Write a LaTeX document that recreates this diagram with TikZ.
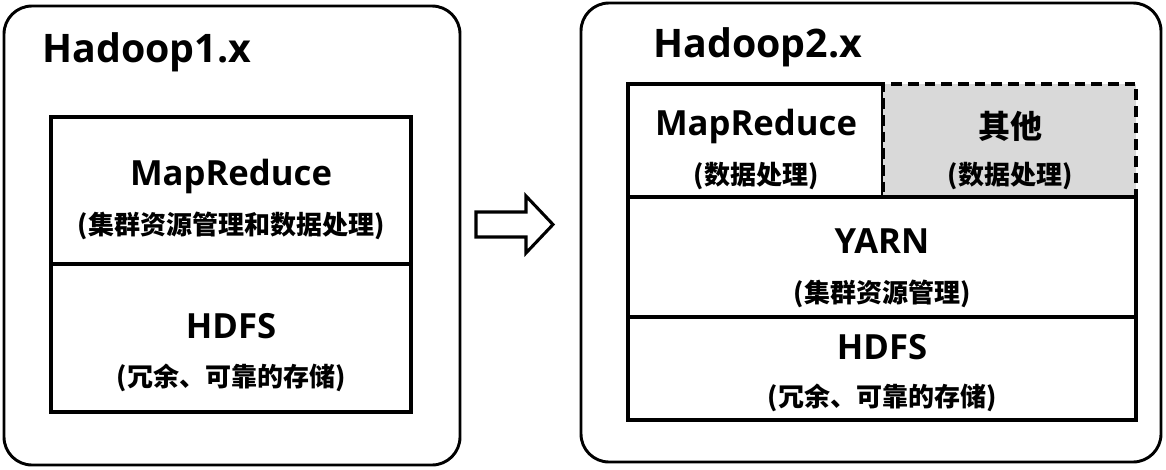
\documentclass[tikz,border=0pt]{standalone}
\usepackage{fontspec}
\setmainfont{Open Sans}
\newfontfamily\cjk{Noto Sans CJK SC}
\usetikzlibrary{positioning}
\definecolor{otherfill}{HTML}{D9D9D9}
\tikzset{
  outerbox/.style={draw=black, line width=2.2pt, rounded corners=21pt},
  layerbox/.style={draw=black, line width=2.3pt},
  otherbox/.style={draw=black, line width=2.3pt, fill=otherfill, dash pattern=on 8pt off 4.5pt},
  titletext/.style={font=\bfseries\fontsize{29.5}{34}\selectfont, anchor=base west, inner sep=0pt},
  headtext/.style={font=\bfseries\fontsize{26}{30}\selectfont, inner sep=0pt},
  subtext/.style={font=\cjk\bfseries\fontsize{19.5}{24}\selectfont, inner sep=0pt},
  arrowshape/.style={draw=black, line width=2.3pt, fill=white, line join=miter}
}
\begin{document}
\begin{tikzpicture}[x=0.75pt,y=-0.75pt]
\useasboundingbox (0,0) rectangle (1166,469);
% outer panels
\draw[outerbox] (4,6) rectangle (460,465);
\draw[outerbox] (581,3) rectangle (1161,462);
\node[titletext] (t1) at (42,62) {Hadoop1.x};
\node[titletext] (t2) at (653,57) {Hadoop2.x};
% left stack
\node[layerbox, minimum width=360*0.75pt, minimum height=147*0.75pt] (mr1) at (231,190.5) {};
\node[layerbox, minimum width=360*0.75pt, minimum height=148*0.75pt] (hd1) at (231,338) {};
\node[headtext] (mr1h) at (231,176) {MapReduce};
\node[subtext] (mr1s) at (231,226) {(集群资源管理和数据处理)};
\node[headtext] (hd1h) at (231,326) {HDFS};
\node[subtext] (hd1s) at (231,378) {(冗余、可靠的存储)};
% right stack
\node[layerbox, minimum width=255*0.75pt, minimum height=113*0.75pt] (mr2) at (755.5,140.5) {};
\node[otherbox, minimum width=253*0.75pt, minimum height=113*0.75pt] (ot2) at (1009.5,140.5) {};
\node[layerbox, minimum width=508*0.75pt, minimum height=120*0.75pt] (yn2) at (882,257) {};
\node[layerbox, minimum width=508*0.75pt, minimum height=103*0.75pt] (hd2) at (882,368.5) {};
\node[headtext] (mr2h) at (756,126) {MapReduce};
\node[subtext] (mr2s) at (756,176) {(数据处理)};
\node[headtext, font=\cjk\bfseries\fontsize{24}{28}\selectfont] (ot2h) at (1010,126) {其他};
\node[subtext] (ot2s) at (1010,176) {(数据处理)};
\node[headtext] (yn2h) at (882,241) {YARN};
\node[subtext] (yn2s) at (882,294) {(集群资源管理)};
\node[headtext] (hd2h) at (882,347) {HDFS};
\node[subtext] (hd2s) at (882,398) {(冗余、可靠的存储)};
% transition arrow
\coordinate (arrS) at (476,224.5);
\coordinate (arrT) at (553,224.5);
\draw[arrowshape] (arrS) ++(0,-12.5) -- ++(50,0) -- ++(0,-16) -- (arrT) -- ++(-27,28.5) -- ++(0,-16) -- ++(-50,0) -- cycle;
\end{tikzpicture}
\end{document}
